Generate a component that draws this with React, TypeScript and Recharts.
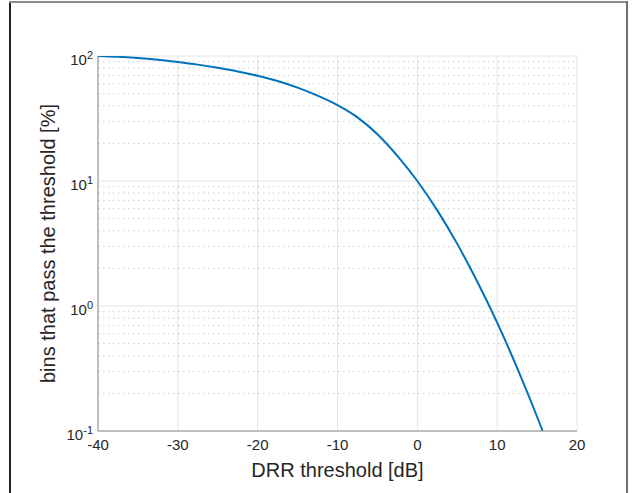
import React from 'react';
import { LineChart, Line, XAxis, YAxis, CartesianGrid, ReferenceLine } from 'recharts';

const drrThreshold = [-40, -37.5, -35, -32.5, -30, -27.5, -25, -22.5, -20, -17.5, -15, -12.5, -10, -7.5, -5, -2.5, 0, 2.5, 5, 7.5, 10, 12.5, 15, 15.7];
const binsPassing = [100, 98.6, 96.4, 93.3, 89.5, 85.3, 80.5, 75.3, 69.5, 63.0, 55.8, 48.2, 40.5, 32.3, 23.7, 15.9, 10.0, 5.82, 3.14, 1.57, 0.736, 0.32, 0.13, 0.1];

const xTicks = [-40, -30, -20, -10, 0, 10, 20];
const yDecadeTicks = [0.1, 1, 10, 100];
const yMinorTicks = [0.2, 0.3, 0.4, 0.5, 0.6, 0.7, 0.8, 0.9, 2, 3, 4, 5, 6, 7, 8, 9, 20, 30, 40, 50, 60, 70, 80, 90];
const xAxisTitle = 'DRR threshold [dB]';
const yAxisTitle = 'bins that pass the threshold [%]';

const data = drrThreshold.map((x, i) => ({ x, y: binsPassing[i] }));

const FONT = '"Liberation Sans", Arial, Helvetica, sans-serif';
const TEXT = '#262626';
const AXIS = '#8a8a8a';

const EmptyTick = () => <g />;

const YTick = (props: any) => {
  const { x, y, payload } = props;
  const exp = Math.round(Math.log10(payload.value));
  return (
    <text x={x} y={y} textAnchor="end" fontSize={15} fill={TEXT} fontFamily={FONT}>
      <tspan dy={8.5}>10</tspan>
      <tspan dy={-6} fontSize={11}>{exp}</tspan>
    </text>
  );
};

const XTick = (props: any) => {
  const { x, y, payload } = props;
  return (
    <text x={x} y={y + 19} textAnchor="middle" fontSize={15} fill={TEXT} fontFamily={FONT}>
      {payload.value}
    </text>
  );
};

export default function App() {
  return (
    <div style={{ position: 'absolute', left: 0, top: 0, width: 638, height: 493, background: '#fff', overflow: 'hidden' }}>
      <div style={{ position: 'absolute', left: 9, top: 1, width: 2, height: 492, background: '#222' }} />
      <div style={{ position: 'absolute', left: 9, top: 1, width: 619, height: 2, background: '#8a8a8a' }} />
      <div style={{ position: 'absolute', left: 626, top: 1, width: 2, height: 492, background: '#707070' }} />
      <div style={{ position: 'absolute', left: 0, top: 0 }}>
        <LineChart width={638} height={493} data={data} margin={{ top: 56, right: 61, bottom: 0, left: 0 }}>
          <CartesianGrid xAxisId="x" yAxisId="y" stroke="#e4e4e4" strokeWidth={1} horizontalValues={yDecadeTicks} verticalValues={xTicks} />
          {yMinorTicks.map((v) => (
            <ReferenceLine key={v} y={v} xAxisId="x" yAxisId="y" stroke="#cccccc" strokeWidth={1} strokeDasharray="1.5 3.5" />
          ))}
          <XAxis
            xAxisId="x"
            dataKey="x"
            type="number"
            domain={[-40, 20]}
            ticks={xTicks}
            interval={0}
            allowDataOverflow
            height={62}
            tickSize={0}
            tickMargin={0}
            tickLine={false}
            axisLine={{ stroke: AXIS, strokeWidth: 1 }}
            tick={XTick}
            label={{ value: xAxisTitle, position: 'center', dy: 8, fill: TEXT, fontSize: 20, fontFamily: FONT }}
          />
          <XAxis xAxisId="xb" type="number" domain={[-40, 20]} ticks={xTicks} interval={0} allowDataOverflow orientation="bottom" mirror height={0} tickSize={5} tick={EmptyTick} axisLine={false} tickLine={{ stroke: AXIS }} />
          <XAxis xAxisId="xt" type="number" domain={[-40, 20]} ticks={xTicks} interval={0} allowDataOverflow orientation="top" mirror height={0} tickSize={5} tick={EmptyTick} axisLine={{ stroke: AXIS }} tickLine={{ stroke: AXIS }} />
          <YAxis
            yAxisId="y"
            type="number"
            scale="log"
            domain={[0.1, 100]}
            ticks={yDecadeTicks}
            interval={0}
            allowDataOverflow
            width={98}
            tickSize={0}
            tickMargin={5}
            tickLine={false}
            axisLine={{ stroke: AXIS, strokeWidth: 1 }}
            tick={YTick}
            label={{ value: yAxisTitle, angle: -90, position: 'center', dx: -1, fill: TEXT, fontSize: 20, fontFamily: FONT }}
          />
          <YAxis yAxisId="ylMaj" type="number" scale="log" domain={[0.1, 100]} ticks={yDecadeTicks} interval={0} allowDataOverflow orientation="left" mirror width={0} tickSize={5} tick={EmptyTick} axisLine={false} tickLine={{ stroke: AXIS }} />
          <YAxis yAxisId="ylMin" type="number" scale="log" domain={[0.1, 100]} ticks={yMinorTicks} interval={0} allowDataOverflow orientation="left" mirror width={0} tickSize={3} tick={EmptyTick} axisLine={false} tickLine={{ stroke: AXIS }} />
          <YAxis yAxisId="yrMaj" type="number" scale="log" domain={[0.1, 100]} ticks={yDecadeTicks} interval={0} allowDataOverflow orientation="right" mirror width={0} tickSize={5} tick={EmptyTick} axisLine={{ stroke: AXIS }} tickLine={{ stroke: AXIS }} />
          <YAxis yAxisId="yrMin" type="number" scale="log" domain={[0.1, 100]} ticks={yMinorTicks} interval={0} allowDataOverflow orientation="right" mirror width={0} tickSize={3} tick={EmptyTick} axisLine={false} tickLine={{ stroke: AXIS }} />
          <Line xAxisId="x" yAxisId="y" type="monotone" dataKey="y" stroke="#0072BD" strokeWidth={2} dot={false} isAnimationActive={false} />
        </LineChart>
      </div>
    </div>
  );
}
